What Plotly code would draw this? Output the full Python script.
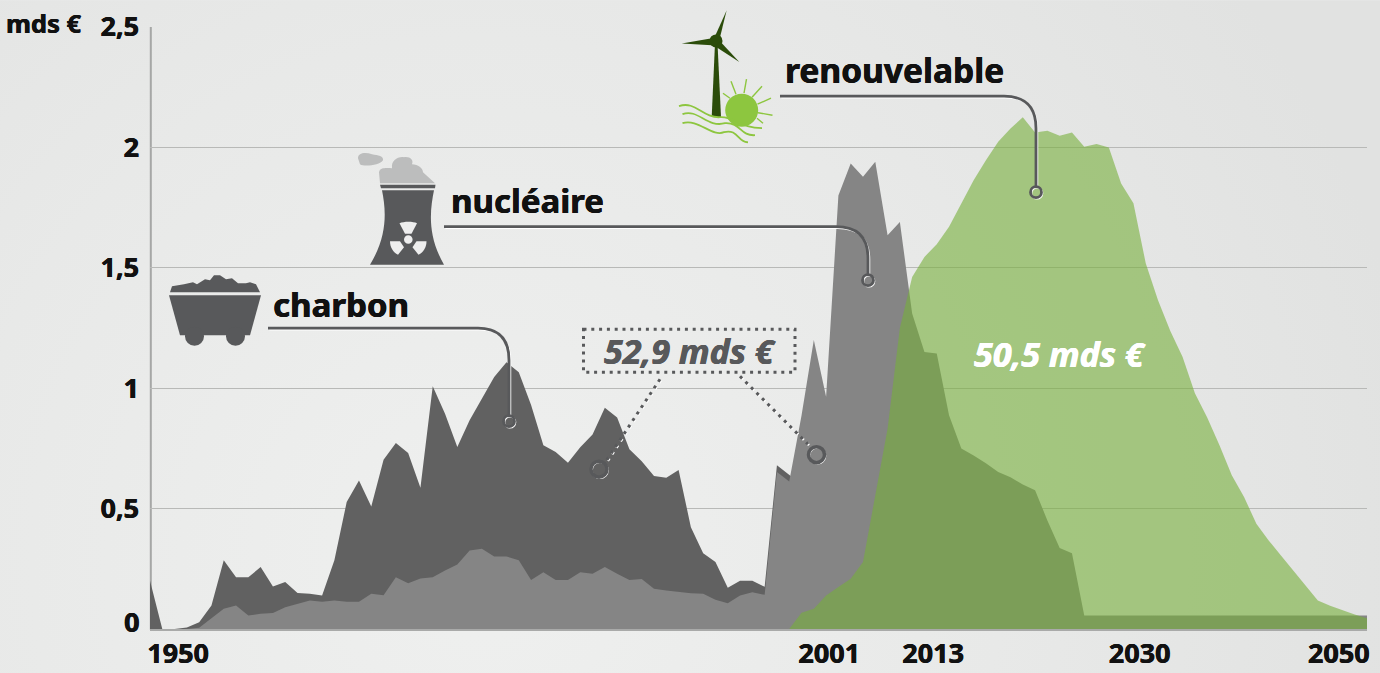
import plotly.graph_objects as go
import base64

# ---- data (mds EUR), one value per step of the horizontal axis ----
coal = [0.20,0.0,0.0,0.006,0.028,0.098,0.285,0.215,0.215,0.257,0.177,0.195,0.149,0.146,0.139,0.285,0.527,0.617,0.509,0.703,
        0.772,0.731,0.587,1.008,0.894,0.756,0.867,0.957,1.047,1.108,1.066,0.93,0.763,0.735,0.69,0.755,0.808,0.919,0.878,0.746,
        0.697,0.635,0.628,0.66,0.423,0.315,0.278,0.171,0.20,0.20,0.175,0.68,0.638,0.60,0.0]
nuclear = [0.0,0.0,0.0,0.0,0.005,0.046,0.084,0.098,0.056,0.063,0.066,0.09,0.105,0.118,0.113,0.118,0.113,0.113,0.146,0.14,
           0.215,0.19,0.21,0.215,0.243,0.268,0.326,0.333,0.301,0.301,0.285,0.204,0.236,0.204,0.204,0.236,0.229,0.257,0.229,0.204,
           0.208,0.167,0.16,0.153,0.148,0.146,0.121,0.107,0.139,0.153,0.142,0.652,0.613,0.887,1.20,0.964,1.80,1.933,1.878,1.94,
           1.635,1.69,1.31,1.15,1.144,0.888,0.75,0.72,0.688,0.652,0.63,0.60,0.576,0.451,0.336,0.315,0.056,0.056,0.056,0.056,
           0.056,0.056,0.056,0.056,0.056,0.056,0.056,0.056,0.056,0.056,0.056,0.056,0.056,0.056,0.056,0.056,0.056,0.056,0.056,0.056]
renewable_start = 52
renewable = [0.0,0.067,0.084,0.139,0.174,0.209,0.278,0.55,0.832,1.25,1.462,1.545,1.598,1.67,1.767,1.864,1.947,2.023,2.079,2.125,
             2.062,2.069,2.048,2.062,2.003,2.014,2.0,1.85,1.768,1.519,1.365,1.238,1.13,0.979,0.878,0.763,0.638,0.548,0.437,0.368,
             0.305,0.243,0.18,0.118,0.097,0.078,0.06,0.045]
x_tick_labels = ["1950","2001","2013","2030","2050"]
x_tick_steps = [2.28,55.25,63.7,80.5,96.7]
y_tick_values = [0.5,1,1.5,2,2.5]
y_tick_labels = ["0,5","1","1,5","2","2,5"]

W,H = 1380,673
L,R,T,B = 150,1367,26.8,628.8
FONT = "Noto Sans"
DARK = "#58595b"
INK = "#111111"

def xp(px): return (px-L)/(R-L)
def yp(py): return (B-py)/(B-T)
def path(cmds):
    out=[]
    for c in cmds:
        if isinstance(c,str): out.append(c); continue
        op,pts=c[0],c[1:]
        out.append(op+" "+" ".join(f"{xp(pts[i]):.5f} {yp(pts[i+1]):.5f}" for i in range(0,len(pts),2)))
    return " ".join(out)
shapes=[]
def add_path(cmds,fill=None,line=None,width=0,dash=None,layer="above"):
    d=dict(type="path",xref="paper",yref="paper",path=path(cmds),layer=layer,
           line=dict(color=line or "rgba(0,0,0,0)",width=width))
    if dash: d["line"]["dash"]=dash
    if fill: d["fillcolor"]=fill
    shapes.append(d)
def circle(cx,cy,r,fill=None,line=None,width=0):
    shapes.append(dict(type="circle",xref="paper",yref="paper",layer="above",
        x0=xp(cx-r),x1=xp(cx+r),y0=yp(cy+r),y1=yp(cy-r),
        fillcolor=fill or "rgba(0,0,0,0)",line=dict(color=line or "rgba(0,0,0,0)",width=width)))
def leader(cmds):
    shift=[(c[0],)+tuple(v+1.4 for v in c[1:]) for c in cmds]
    add_path(shift,line="#ffffff",width=1.7)
    add_path(cmds,line=DARK,width=2.8)
def ring(cx,cy,r,w=2.8):
    circle(cx+1,cy+1,r,line="#ffffff",width=1.6)
    circle(cx,cy,r,line=DARK,width=w)

# left axis line, behind the areas
add_path([("M",150.8,26.8),("L",150.8,629.5)],line="#a6a7a6",width=2,layer="below")

# leaders
leader([("M",268,328),("L",478,328),("Q",509,328,509,360),("L",509,415)]); ring(509,421,5.5)
leader([("M",444,226.5),("L",836,226.5),("Q",868,226.5,868,258),("L",868,274)]); ring(868,280,5.5)
leader([("M",780,96),("L",1004,96),("Q",1036,96,1036,128),("L",1036,186)]); ring(1036,192,5.5)
# dotted box + leaders
DOT="3px,4.8px"
add_path([("M",583.5,329),("L",795,329),("L",795,372),("L",583.5,372),"Z"],line=DARK,width=3,dash=DOT)
add_path([("M",661,380),("L",607,462)],line="#ffffff",width=2.5,dash=DOT)
add_path([("M",660,379),("L",606,461)],line=DARK,width=3,dash=DOT)
add_path([("M",741,377),("L",809,445)],line="#ffffff",width=2.5,dash=DOT)
add_path([("M",740,376),("L",808,444)],line=DARK,width=3,dash=DOT)
ring(599,469,8,3.5); ring(816.5,454.5,8,3.5)

# coal wagon
add_path([("M",169,295),("L",261,295),("L",250,335),("L",180,335),"Z"],fill=DARK)
circle(194.5,336,9.5,fill=DARK); circle(235.5,336,9.5,fill=DARK)
add_path([("M",170,292),("L",172,286),("L",184,284),("L",193,282),("L",197,284),("L",205,279),("L",210,280),("L",214,275),
          ("L",220,275),("L",226,279),("L",232,278),("L",238,283),("L",246,283),("L",250,282),("L",256,284),("L",260,292),"Z"],fill=DARK)

# nuclear tower
GREY="#bcbdbd"
add_path([("M",358,158),("C",358,152,366,152,372,154),("C",378,155,384,156,383,160),("C",380,165,364,167,360,164),"Z"],fill=GREY)
add_path([("M",380,183),("L",379,172),("C",380,167,386,168,392,168),("C",391,160,398,156,404,157),("C",410,156,414,160,412,164),
          ("C",418,164,423,168,423,172),("L",435,183),"Z"],fill=GREY)
add_path([("M",380,184.5),("L",435.5,184.5),("L",435,188),("L",381,188),"Z"],fill=DARK)
add_path([("M",382,190),("L",434,190),("C",430,210,427,235,444,264.5),("L",370,264.5),("C",388,235,386,210,382,190),"Z"],fill=DARK)
cx,cy=408.3,239.3
LT="#eeeeee"
circle(cx,cy,4.3,fill=LT)
add_path([("M",399.5,223),("C",404,221,413,221,417,223),("L",411.5,233.5),("L",405,233.5),"Z"],fill=LT)
add_path([("M",390,241),("L",400,241),("L",404,247),("L",398,254.5),("C",393,252,390,247,390,241),"Z"],fill=LT)
add_path([("M",426.5,241),("L",416.5,241),("L",412.5,247),("L",418.5,254.5),("C",423.5,252,426.5,247,426.5,241),"Z"],fill=LT)

# renewable icon
GD="#2b4c0a"; GL="#8dc63f"
add_path([("M",711.7,116.7),("L",715,43),("L",717.5,43),("L",721,116.7),"Z"],fill=GD)
circle(716,40.7,6.5,fill=GD)
add_path([("M",715,36),("L",726.7,10),("L",720,37),"Z"],fill=GD)
add_path([("M",712,38),("L",681.7,43.3),("L",712,45),"Z"],fill=GD)
add_path([("M",720,41),("L",739.3,61.7),("L",715,46),"Z"],fill=GD)
circle(741.7,110,16.5,fill=GL)
for a,b,c,d in [(723,93,730,98),(731,81,736,94),(746.5,79,744,93),(762,86,752,97),(771,98,757.5,104),(772.5,115,758,112.5),(763,123,757,118)]:
    add_path([("M",a,b),("L",c,d)],line=GL,width=1.4)
add_path([("M",679,106),("C",695,100,703,118,720,117),("C",735,116,740,128,762,128)],line=GL,width=1.8)
add_path([("M",682.5,114),("C",698,108,707,128,725,123),("C",741,122,740,136,755,135)],line=GL,width=1.8)
add_path([("M",682.5,123),("C",698,118,712,137,724,132),("C",738,128,738,143,748,142)],line=GL,width=1.8)

def heavy(color): return f"0.4px 0 0 {color}, -0.2px 0 0 {color}"
def text(px,py,s,size,color=INK,anchor="center",italic=False):
    return dict(xref="paper",yref="paper",x=xp(px),y=yp(py),text=s,showarrow=False,xanchor=anchor,yanchor="middle",
                font=dict(family=FONT,size=size,color=color,weight=700,shadow=heavy(color),style="italic" if italic else "normal"))
annotations=[
    text(271,304,"charbon",33,anchor="left"),
    text(449,200,"nucléaire",33,anchor="left"),
    text(783,70,"renouvelable",33.5,anchor="left"),
    text(690,351,"52,9 mds €",34,color=DARK,italic=True),
    text(1060,354,"50,5 mds €",34,color="#ffffff",italic=True),
    text(4,23,"mds €",25.5,anchor="left"),
    text(141,621,"0",27,anchor="right"),
]

steps=list(range(len(nuclear)))
fig=go.Figure()
fig.add_trace(go.Scatter(x=list(range(len(coal))),y=coal,name="charbon",mode="lines",line=dict(width=0),fill="tozeroy",fillcolor="#616161"))
fig.add_trace(go.Scatter(x=steps,y=nuclear,name="nucléaire",mode="lines",line=dict(width=0),fill="tozeroy",fillcolor="#858585"))
fig.add_trace(go.Scatter(x=[renewable_start+i for i in range(len(renewable))],y=renewable,name="renouvelable",mode="lines",line=dict(width=0),fill="tozeroy",fillcolor="rgba(119,175,58,0.6)"))
svg=('<svg xmlns="http://www.w3.org/2000/svg" width="1380" height="673"><defs><radialGradient id="g" gradientUnits="userSpaceOnUse" cx="480" cy="560" r="950">'
     '<stop offset="0" stop-color="#eff0ef"/><stop offset="0.55" stop-color="#e8e9e8"/><stop offset="1" stop-color="#e1e2e1"/></radialGradient></defs>'
     '<rect width="1380" height="673" fill="url(#g)"/></svg>')
bg="data:image/svg+xml;base64,"+base64.b64encode(svg.encode()).decode()
tick_ink=heavy(INK)
fig.update_layout(width=W,height=H,margin=dict(l=L,r=W-R,t=T,b=H-B,pad=0),paper_bgcolor="#e9eaea",plot_bgcolor="rgba(0,0,0,0)",
    showlegend=False,hovermode=False,shapes=shapes,annotations=annotations,
    images=[dict(source=bg,xref="paper",yref="paper",x=xp(0),y=yp(0),sizex=W/(R-L),sizey=H/(B-T),sizing="stretch",xanchor="left",yanchor="top",layer="below")],
    xaxis=dict(automargin=False,range=[0,99],tickvals=x_tick_steps,ticktext=x_tick_labels,showgrid=False,zeroline=False,showline=True,linecolor="#a9aaa9",linewidth=1.5,
               ticks="",tickfont=dict(family=FONT,size=27,color=INK,weight=700,shadow=tick_ink),ticklabelstandoff=0),
    yaxis=dict(automargin=False,range=[0,2.5],tickvals=y_tick_values,ticktext=y_tick_labels,showgrid=True,gridcolor="#b8b9b7",gridwidth=1.4,zeroline=False,showline=False,
               ticks="",tickfont=dict(family=FONT,size=27,color=INK,weight=700,shadow=tick_ink),ticklabelstandoff=10))
fig.write_html("out.html",config=dict(displayModeBar=False),post_script="document.body.style.margin='0';document.body.style.overflow='hidden';")
